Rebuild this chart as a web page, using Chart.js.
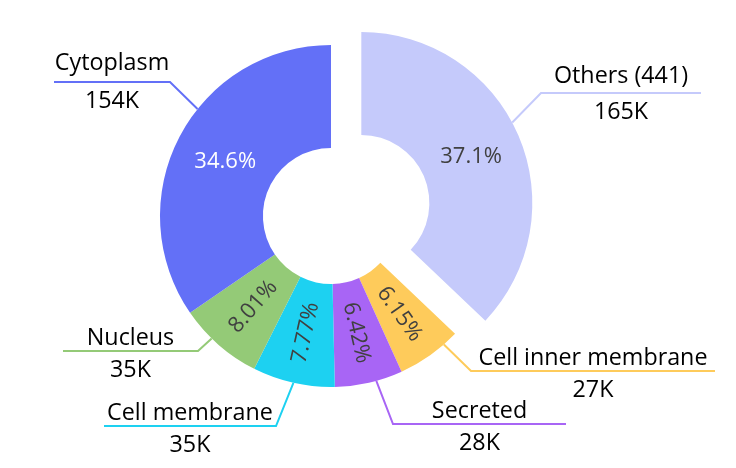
<!DOCTYPE html>
<html>
<head>
<meta charset="utf-8">
<script src="https://cdn.jsdelivr.net/npm/chart.js@4.4.1/dist/chart.umd.min.js"></script>
<style>
html,body{margin:0;padding:0;background:#ffffff;}
#wrap{width:736px;height:468px;position:relative;}
</style>
</head>
<body>
<div id="wrap"><canvas id="c" width="736" height="468"></canvas></div>
<script>
// ---- data ----
const categories = ['Others (441)', 'Cell inner membrane', 'Secreted', 'Cell membrane', 'Nucleus', 'Cytoplasm'];
const percentages = [37.1, 6.15, 6.42, 7.77, 8.01, 34.6];
const counts = ['165K', '27K', '28K', '35K', '35K', '154K'];
const sliceColors = ['#C5CAFB', '#FECB5B', '#A865F5', '#1DD1F1', '#94CA77', '#6370F7'];
const pctTextColors = ['#404040', '#404040', '#404040', '#404040', '#404040', '#ffffff'];

// ---- label layout (annotation positions, not data) ----
const calloutAnchorFrac = [0.464, 0.235, 0.39, 0.5, 0.61, 0.588];
const calloutElbowX = [541, 471, 393, 276, 198, 170];
const calloutElbowY = [93, 371, 424, 426, 351, 82];
const calloutEndX = [701, 715, 566, 104, 63, 54];
const explodeIndex = 0;
const explodeDistance = 33;

const FONT = '"Open Sans", "Noto Sans", sans-serif';

const explodePlugin = {
  id: 'explode',
  afterDatasetsUpdate(chart) {
    const arc = chart.getDatasetMeta(0).data[explodeIndex];
    if (!arc) return;
    const mid = (arc.startAngle + arc.endAngle) / 2;
    arc.x += Math.cos(mid) * explodeDistance;
    arc.y += Math.sin(mid) * explodeDistance;
  }
};

const labelPlugin = {
  id: 'labels',
  afterDatasetsDraw(chart) {
    const ctx = chart.ctx;
    const meta = chart.getDatasetMeta(0);
    meta.data.forEach((arc, i) => {
      const {x, y, startAngle, endAngle, innerRadius, outerRadius} = arc;
      const mid = (startAngle + endAngle) / 2;
      const r = (innerRadius + outerRadius) / 2;
      const px = x + Math.cos(mid) * r;
      const py = y + Math.sin(mid) * r;
      // percentage label
      ctx.save();
      ctx.font = '22px ' + FONT;
      ctx.fillStyle = pctTextColors[i];
      ctx.textAlign = 'center';
      ctx.textBaseline = 'middle';
      ctx.translate(px, py);
      if (percentages[i] < 10) {
        let a = mid;
        if (Math.cos(a) < 0) a += Math.PI;
        ctx.rotate(a);
      }
      ctx.fillText(percentages[i] + '%', 0, 1);
      ctx.restore();

      // callout leader
      const aa = startAngle + (endAngle - startAngle) * calloutAnchorFrac[i];
      const sx = x + Math.cos(aa) * outerRadius;
      const sy = y + Math.sin(aa) * outerRadius;
      const ex = calloutElbowX[i], ey = calloutElbowY[i], fx = calloutEndX[i];
      ctx.save();
      ctx.strokeStyle = sliceColors[i];
      ctx.lineWidth = 2;
      ctx.lineJoin = 'miter';
      ctx.beginPath();
      ctx.moveTo(sx, sy);
      ctx.lineTo(ex, ey);
      ctx.lineTo(fx, ey);
      ctx.stroke();
      // texts
      ctx.font = '23.3px ' + FONT;
      ctx.fillStyle = '#000000';
      ctx.textAlign = 'center';
      ctx.textBaseline = 'alphabetic';
      const cx = (ex + fx) / 2;
      const m1 = ctx.measureText(categories[i]);
      ctx.fillText(categories[i], cx, ey - 6 - m1.actualBoundingBoxDescent);
      const m2 = ctx.measureText(counts[i]);
      ctx.fillText(counts[i], cx, ey + 9 + m2.actualBoundingBoxAscent);
      ctx.restore();
    });
  }
};

new Chart(document.getElementById('c'), {
  type: 'doughnut',
  data: {
    labels: categories,
    datasets: [{
      data: percentages,
      backgroundColor: sliceColors,
      borderWidth: 0
    }]
  },
  options: {
    responsive: false,
    animation: false,
    events: [],
    radius: 171,
    cutout: '39.8%',
    layout: { padding: { left: 0, right: 74, top: 0, bottom: 36 } },
    plugins: {
      legend: { display: false },
      tooltip: { enabled: false }
    }
  },
  plugins: [explodePlugin, labelPlugin]
});
</script>
</body>
</html>
